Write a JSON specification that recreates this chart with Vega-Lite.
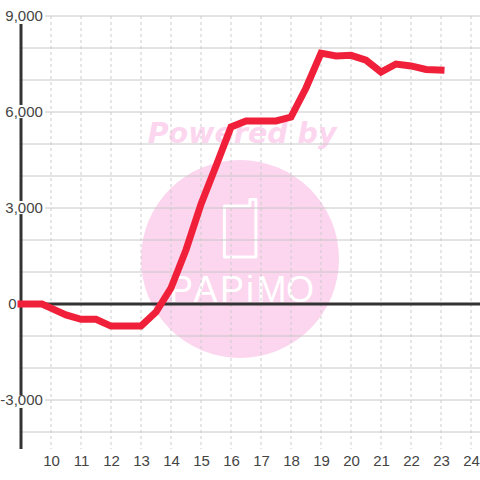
{
"$schema":"https://vega.github.io/schema/vega-lite/v6.json",
"width":459,"height":433,"autosize":"none",
"padding":{"left":21,"top":16,"right":0,"bottom":31},
"background":"white",
"config":{"view":{"stroke":null},"font":"Liberation Sans","axis":{"labelOverlap":false}},
"datasets":{
"series":[{"h":9,"v":0},{"h":9.7,"v":0},{"h":10,"v":-130},{"h":10.5,"v":-340},{"h":11,"v":-480},{"h":11.5,"v":-480},{"h":12,"v":-690},{"h":13,"v":-690},{"h":13.5,"v":-250},{"h":14,"v":500},{"h":14.5,"v":1690},{"h":15,"v":3120},{"h":15.5,"v":4310},{"h":16,"v":5530},{"h":16.5,"v":5720},{"h":17.5,"v":5720},{"h":18,"v":5840},{"h":18.5,"v":6750},{"h":19,"v":7840},{"h":19.5,"v":7750},{"h":20,"v":7770},{"h":20.5,"v":7620},{"h":21,"v":7250},{"h":21.5,"v":7500},{"h":22,"v":7440},{"h":22.5,"v":7330},{"h":23,"v":7310}],
"hours":[{"h":10},{"h":11},{"h":12},{"h":13},{"h":14},{"h":15},{"h":16},{"h":17},{"h":18},{"h":19},{"h":20},{"h":21},{"h":22},{"h":23},{"h":24}],
"axisSeg":[{"a":8750,"b":6220},{"a":5810,"b":3220},{"a":2810,"b":-2850},{"a":-3250,"b":-4531}],
"phone":[{"o":1,"h":15.78,"v":3060},{"o":2,"h":15.78,"v":1470},{"o":3,"h":16.83,"v":1470},{"o":4,"h":16.83,"v":3265},{"o":5,"h":16.63,"v":3265},{"o":6,"h":16.63,"v":3060},{"o":7,"h":15.78,"v":3060}],
"letters":[{"t":"P","h":14.33},{"t":"A","h":15.15},{"t":"P","h":16.03},{"t":"i","h":16.63},{"t":"M","h":17.35},{"t":"O","h":18.3}]
},
"layer":[
{"data":{"values":[{"h":16.3,"v":1406}]},"mark":{"type":"point","shape":"circle","filled":true,"size":39204,"color":"#fcd5ee","opacity":1},
 "encoding":{
  "x":{"field":"h","type":"quantitative","scale":{"domain":[9,24.3],"nice":false,"zero":false},"axis":{"values":[10,11,12,13,14,15,16,17,18,19,20,21,22,23,24],"title":null,"grid":false,"domain":false,"ticks":false,"labelFontSize":15,"labelColor":"#444444","labelPadding":4,"labelFont":"Liberation Sans","format":"d","labelOverlap":false,"labelFlush":false,"labelBound":false,"tickCount":15}},
  "y":{"field":"v","type":"quantitative","scale":{"domain":[-4531.25,9000],"nice":false,"zero":false},"axis":null}
 }},
{"data":{"values":[{"t":"Powered by","h":16.37,"v":5312}]},"mark":{"type":"text","font":"DejaVu Sans","fontWeight":"bold","fontStyle":"italic","fontSize":28.5,"color":"#fcd5ee","align":"center","baseline":"middle"},
 "encoding":{"x":{"field":"h","type":"quantitative"},"y":{"field":"v","type":"quantitative"},"text":{"field":"t"}}},
{"data":{"name":"phone"},"mark":{"type":"line","stroke":"#ffffff","strokeWidth":3,"strokeJoin":"round","strokeCap":"round"},
 "encoding":{"x":{"field":"h","type":"quantitative"},"y":{"field":"v","type":"quantitative"},"order":{"field":"o"}}},
{"data":{"name":"letters"},"mark":{"type":"text","font":"Liberation Sans","fontSize":36,"color":"#ffffff","align":"center","baseline":"middle"},
 "encoding":{"x":{"field":"h","type":"quantitative"},"y":{"datum":406},"text":{"field":"t"}}},
{"data":{"name":"hours"},"mark":{"type":"rule","stroke":"#cccccc","strokeWidth":1,"strokeDash":[3,3]},
 "encoding":{"x":{"field":"h","type":"quantitative"},"y":{"datum":9000},"y2":{"datum":-4531.25}}},
{"data":{"values":[{"v":9000},{"v":6000},{"v":3000},{"v":-3000}]},"mark":{"type":"rule","stroke":"#c8c8c8","strokeWidth":1},
 "encoding":{"y":{"field":"v","type":"quantitative"},"x":{"datum":9.8},"x2":{"datum":24.3}}},
{"data":{"values":[{"v":8000},{"v":7000},{"v":5000},{"v":4000},{"v":2000},{"v":1000},{"v":-1000},{"v":-2000},{"v":-4000}]},"mark":{"type":"rule","stroke":"#c8c8c8","strokeWidth":1},
 "encoding":{"y":{"field":"v","type":"quantitative"},"x":{"datum":9},"x2":{"datum":24.3}}},
{"data":{"values":[{"v":0}]},"mark":{"type":"rule","stroke":"#333333","strokeWidth":3},
 "encoding":{"y":{"field":"v","type":"quantitative"},"x":{"datum":9},"x2":{"datum":24.3}}},
{"data":{"name":"axisSeg"},"mark":{"type":"rule","stroke":"#333333","strokeWidth":3},
 "encoding":{"x":{"datum":9},"y":{"field":"a","type":"quantitative"},"y2":{"field":"b"}}},
{"data":{"name":"series"},"mark":{"type":"line","stroke":"#f0203a","strokeWidth":7,"strokeCap":"square","strokeJoin":"miter"},
 "encoding":{"x":{"field":"h","type":"quantitative"},"y":{"field":"v","type":"quantitative"}}},
{"data":{"values":[{"v":9000,"t":"9,000"},{"v":6000,"t":"6,000"},{"v":3000,"t":"3,000"},{"v":-3000,"t":"-3,000"}]},"mark":{"type":"text","fontSize":15,"font":"Liberation Sans","color":"#444444","align":"right","baseline":"middle"},
 "encoding":{"x":{"datum":9.73},"y":{"field":"v","type":"quantitative"},"text":{"field":"t"}}},
{"data":{"values":[{"v":0,"t":"0"}]},"mark":{"type":"text","fontSize":15,"font":"Liberation Sans","color":"#444444","align":"right","baseline":"middle"},
 "encoding":{"x":{"datum":8.85},"y":{"field":"v","type":"quantitative"},"text":{"field":"t"}}}
]
}
